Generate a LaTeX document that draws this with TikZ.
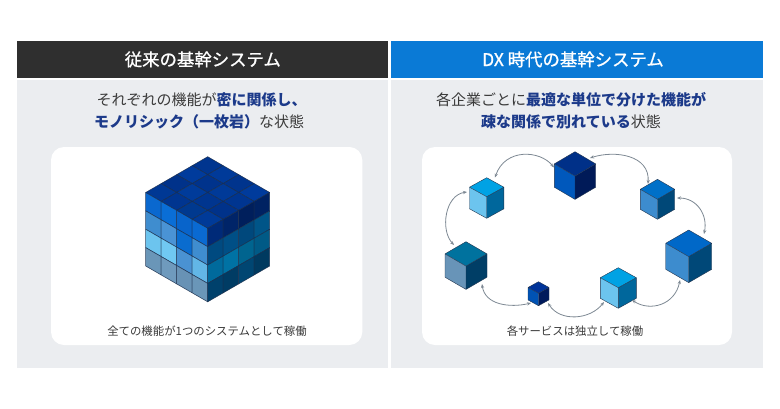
\documentclass[tikz,border=0pt]{standalone}
\usepackage{fontspec}
\setmainfont{Noto Sans CJK JP}
\newfontfamily\hdrfont[FakeBold=0.9]{Noto Sans CJK JP}
\usetikzlibrary{arrows.meta}
\definecolor{panelgray}{HTML}{EBEDF0}
\definecolor{hdrdark}{HTML}{2F2F2F}
\definecolor{hdrblue}{HTML}{0A7AD6}
\definecolor{txtgray}{HTML}{3A3A3A}
\definecolor{navy}{HTML}{1C3A8A}
\definecolor{gridline}{HTML}{1B2E4C}
\definecolor{conncol}{HTML}{7D8893}
\definecolor{cubeedge}{HTML}{22354F}
\tikzset{
  hdrtext/.style={text=white, inner sep=0pt, font=\hdrfont\fontsize{17.4}{20}\selectfont},
  subtext/.style={text=txtgray, inner sep=0pt, font=\fontsize{15}{18}\selectfont},
  captext/.style={text=txtgray, inner sep=0pt, font=\fontsize{11.4}{14}\selectfont},
  conn/.style={draw=conncol, line width=0.8pt, {Stealth[length=4pt,width=3.2pt]}-{Stealth[length=4pt,width=3.2pt]}},
  cell/.style={draw=gridline, draw opacity=0.85, line width=0.55pt, line join=round},
}
\newcommand\hl[1]{{\bfseries\color{navy}#1}}
% name, cx, ty, w, h, e, top, left, right
\newcommand\isocube[9]{%
  \definecolor{cubT}{HTML}{#7}\definecolor{cubL}{HTML}{#8}\definecolor{cubR}{HTML}{#9}%
  \fill[cubT] ({#2},{#3}) -- ({#2+#4},{#3+#5}) -- ({#2},{#3+2*#5}) -- ({#2-#4},{#3+#5}) -- cycle;
  \fill[cubL] ({#2-#4},{#3+#5}) -- ({#2},{#3+2*#5}) -- ({#2},{#3+2*#5+#6}) -- ({#2-#4},{#3+#5+#6}) -- cycle;
  \fill[cubR] ({#2+#4},{#3+#5}) -- ({#2},{#3+2*#5}) -- ({#2},{#3+2*#5+#6}) -- ({#2+#4},{#3+#5+#6}) -- cycle;
  \draw[cubeedge, line width=0.4pt, line join=round] ({#2},{#3}) -- ({#2+#4},{#3+#5}) -- ({#2+#4},{#3+#5+#6}) -- ({#2},{#3+2*#5+#6}) -- ({#2-#4},{#3+#5+#6}) -- ({#2-#4},{#3+#5}) -- cycle
    ({#2-#4},{#3+#5}) -- ({#2},{#3+2*#5}) -- ({#2+#4},{#3+#5}) ({#2},{#3+2*#5}) -- ({#2},{#3+2*#5+#6});
  \coordinate (#1) at ({#2},{#3+#5+#6/2});
}
\begin{document}
\begin{tikzpicture}[x=1pt,y=-1pt]
\useasboundingbox (0,0) rectangle (780,408);
\fill[white] (0,0) rectangle (780,408);
% panels
\fill[panelgray] (17.3,80) rectangle (388.3,367.7);
\fill[panelgray] (391.3,80) rectangle (762.5,367.7);
\fill[hdrdark] (17.3,40.5) rectangle (388.3,78.3);
\fill[hdrblue] (391.3,40.5) rectangle (762.5,78.3);
\fill[white, rounded corners=13pt] (51,147) rectangle (362.3,345);
\fill[white, rounded corners=13pt] (422,147) rectangle (732,345);
% headers
\node[hdrtext] (lh) at (202.8,59.4) {従来の基幹システム};
\node[hdrtext] (rh) at (573,59.4) {DX 時代の基幹システム};
% subtitles
\node[subtext] (lt1) at (201.5,100) {それぞれの機能が\hl{密に関係し、}};
\node[subtext] (lt2) at (199,121.7) {\hl{モノリシック（一枚岩）}な状態};
\node[subtext] (rt1) at (571,100) {各企業ごとに\hl{最適な単位で分けた機能が}};
\node[subtext] (rt2) at (571,121.7) {\hl{疎な関係で別れている}状態};
% captions
\node[captext] (lc) at (207,330.7) {全ての機能が1つのシステムとして稼働};
\node[captext] (rc) at (575,330.7) {各サービスは独立して稼働};
% big monolithic cube
\def\cx{207.7}\def\ty{156.7}\def\w{62}\def\h{35.8}\def\e{73.5}
% top face
\foreach \j/\row in {0/{00358F,003B9C,00328A,003894},1/{003A99,00338C,003B9A,003590},2/{00348D,003A98,00358F,00398F},3/{003B9C,003590,00328A,003A98}}{
  \foreach \hex [count=\ii from 0] in \row {
    \definecolor{tmpc}{HTML}{\hex}
    \fill[tmpc, cell] ({\cx-\ii*\w/4+\j*\w/4},{\ty+\ii*\h/4+\j*\h/4}) -- ++({-\w/4},{\h/4}) -- ++({\w/4},{\h/4}) -- ++({\w/4},{-\h/4}) -- cycle;
  }
}
% left face
\foreach \j/\row in {0/{0A68CF,0A6ED6,0864CB,0A6AD2},1/{3F8DCF,4A93D5,0A6CCF,3F8DCF},2/{6CC4EE,70C8F2,4A92D2,62B6E6},3/{6A96B8,6F9ABD,6892B5,6A96B8}}{
  \foreach \hex [count=\ii from 0] in \row {
    \definecolor{tmpc}{HTML}{\hex}
    \fill[tmpc, cell] ({\cx-\w+\ii*\w/4},{\ty+\h+\ii*\h/4+\j*\e/4}) -- ++({\w/4},{\h/4}) -- ++(0,{\e/4}) -- ++({-\w/4},{-\h/4}) -- cycle;
  }
}
% right face
\foreach \j/\row in {0/{002A78,002468,001F5C,002262},1/{004A80,004F86,00487C,005588},2/{006A9C,0072A4,00648F,005A86},3/{00416C,003C64,004672,003A60}}{
  \foreach \hex [count=\ii from 0] in \row {
    \definecolor{tmpc}{HTML}{\hex}
    \fill[tmpc, cell] ({\cx+\ii*\w/4},{\ty+2*\h-\ii*\h/4+\j*\e/4}) -- ++({\w/4},{-\h/4}) -- ++(0,{\e/4}) -- ++({-\w/4},{\h/4}) -- cycle;
  }
}
% microservice cubes
\isocube{c1}{575}{151.7}{20.7}{12.2}{23.3}{003088}{0058BC}{001A58}
\isocube{c2}{486.7}{177.7}{17.2}{9.5}{21.6}{00A2E4}{6CC4EE}{00679C}
\isocube{c3}{657.5}{179.3}{17.2}{10}{20}{0070C8}{3D8CCE}{004878}
\isocube{c4}{466}{241.7}{21}{12.2}{23.3}{00729E}{6894B8}{003E66}
\isocube{c5}{688.7}{230}{23}{13.3}{26}{0068C8}{3D8CCE}{004878}
\isocube{c6}{538.5}{281.7}{10.5}{5.8}{12.4}{003399}{0052B4}{001A5C}
\isocube{c7}{618.3}{267.7}{18}{10}{20.6}{00A2E4}{6CC4EE}{00679C}
% connector ends
\coordinate (e12a) at (554,167.5);
\coordinate (e12b) at (495,177.5);
\coordinate (e13a) at (590,158);
\coordinate (e13b) at (648,184);
\coordinate (e35a) at (677,198);
\coordinate (e35b) at (704,234);
\coordinate (e24a) at (467,192);
\coordinate (e24b) at (454,245);
\coordinate (e46a) at (482,284);
\coordinate (e46b) at (531,303);
\coordinate (e67a) at (548,303);
\coordinate (e67b) at (604,302);
\coordinate (e75a) at (632,300);
\coordinate (e75b) at (680,280);
\draw[conn] (e12a) .. controls (540,150) and (505,148) .. (e12b);
\draw[conn] (e13a) .. controls (615,150) and (650,155) .. (e13b);
\draw[conn] (e35a) .. controls (697,198) and (708,215) .. (e35b);
\draw[conn] (e24a) .. controls (445,195) and (440,230) .. (e24b);
\draw[conn] (e46a) .. controls (485,305) and (510,308) .. (e46b);
\draw[conn] (e67a) .. controls (560,322) and (590,320) .. (e67b);
\draw[conn] (e75a) .. controls (650,312) and (675,305) .. (e75b);
\end{tikzpicture}
\end{document}
